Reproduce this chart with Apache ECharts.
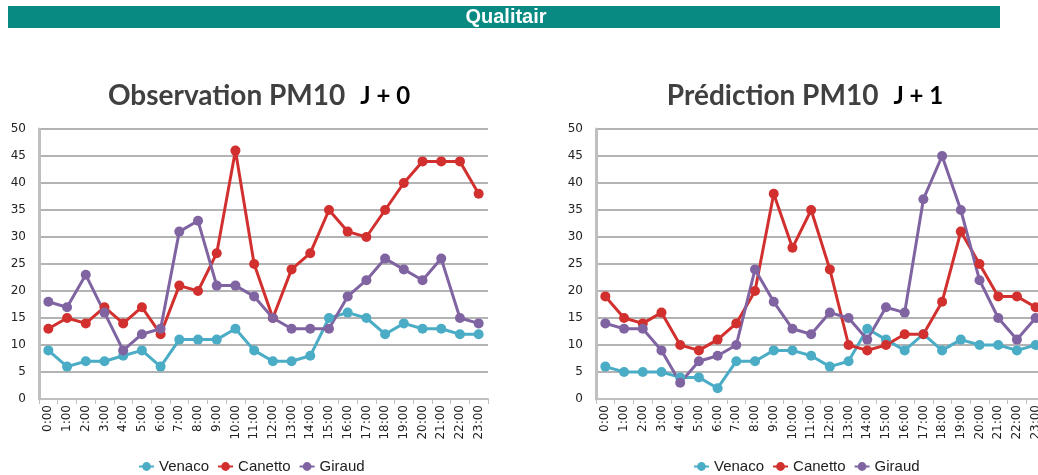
<!DOCTYPE html>
<html>
<head>
<meta charset="utf-8">
<script src="https://cdn.jsdelivr.net/npm/echarts@6/dist/echarts.min.js"></script>
<style>
  html, body { margin: 0; padding: 0; background: #fff; }
  #chart { width: 1038px; height: 475px; }
</style>
</head>
<body>
<div id="chart"></div>
<script>
// Hourly PM10 concentrations at three stations
const hours = ['0:00','1:00','2:00','3:00','4:00','5:00','6:00','7:00','8:00','9:00','10:00','11:00',
               '12:00','13:00','14:00','15:00','16:00','17:00','18:00','19:00','20:00','21:00','22:00','23:00'];
const stations = ['Venaco', 'Canetto', 'Giraud'];

// Observation, day J + 0
const obsVenaco  = [9, 6, 7, 7, 8, 9, 6, 11, 11, 11, 13, 9, 7, 7, 8, 15, 16, 15, 12, 14, 13, 13, 12, 12];
const obsCanetto = [13, 15, 14, 17, 14, 17, 12, 21, 20, 27, 46, 25, 15, 24, 27, 35, 31, 30, 35, 40, 44, 44, 44, 38];
const obsGiraud  = [18, 17, 23, 16, 9, 12, 13, 31, 33, 21, 21, 19, 15, 13, 13, 13, 19, 22, 26, 24, 22, 26, 15, 14];

// Forecast, day J + 1
const preVenaco  = [6, 5, 5, 5, 4, 4, 2, 7, 7, 9, 9, 8, 6, 7, 13, 11, 9, 12, 9, 11, 10, 10, 9, 10];
const preCanetto = [19, 15, 14, 16, 10, 9, 11, 14, 20, 38, 28, 35, 24, 10, 9, 10, 12, 12, 18, 31, 25, 19, 19, 17];
const preGiraud  = [14, 13, 13, 9, 3, 7, 8, 10, 24, 18, 13, 12, 16, 15, 11, 17, 16, 37, 45, 35, 22, 15, 11, 15];

const yTicks = { min: 0, max: 50, interval: 5 };

const colors = { Venaco: '#4BACC6', Canetto: '#D1302E', Giraud: '#8064A2' };

const chart = echarts.init(document.getElementById('chart'));

function xAxis(gridIndex) {
  return {
    type: 'category', gridIndex, data: hours, boundaryGap: true,
    axisLine: { lineStyle: { color: '#BFBFBF', width: 2 } },
    axisTick: { show: true, length: 5, lineStyle: { color: '#BFBFBF', width: 1 } },
    axisLabel: { rotate: 90, interval: 0, color: '#222', fontSize: 12, fontFamily: 'DejaVu Sans', margin: 6 },
    splitLine: { show: false }
  };
}
function yAxis(gridIndex) {
  return {
    type: 'value', gridIndex, min: yTicks.min, max: yTicks.max, interval: yTicks.interval,
    axisLine: { show: true, lineStyle: { color: '#BFBFBF', width: 3 } },
    axisTick: { show: false },
    axisLabel: { color: '#222', fontSize: 12, fontFamily: 'DejaVu Sans', margin: 13 },
    splitLine: { lineStyle: { color: '#9A9A9A', width: 1.5 } }
  };
}
function line(name, data, idx) {
  return {
    name, type: 'line', data, xAxisIndex: idx, yAxisIndex: idx,
    symbol: 'circle', symbolSize: 10,
    lineStyle: { color: colors[name], width: 3 },
    itemStyle: { color: colors[name] },
    animation: false
  };
}
function title(main, day, cx) {
  return {
    text: '{a|' + main + '}   {b|' + day + '}',
    left: cx, top: 77, textAlign: 'center',
    textStyle: {
      rich: {
        a: { fontFamily: 'Lato', fontWeight: 'bold', fontSize: 28, color: '#404040' },
        b: { fontFamily: 'Lato', fontWeight: 'bold', fontSize: 24, color: '#000' }
      }
    }
  };
}
function legend(left) {
  return {
    data: stations, left, top: 454, itemGap: 8, itemWidth: 15, itemHeight: 11,
    textStyle: { fontFamily: 'Liberation Sans', fontSize: 15, color: '#222' }
  };
}

chart.setOption({
  animation: false,
  graphic: [
    { type: 'rect', shape: { x: 8, y: 6, width: 992, height: 22 }, style: { fill: '#088A82' } },
    { type: 'text', x: 506, y: 17,
      style: { text: 'Qualitair', fill: '#fff', font: 'bold 20px "Liberation Sans Narrow", "Liberation Sans"',
               align: 'center', verticalAlign: 'middle' } }
  ],
  title: [title('Observation PM10', 'J + 0', 254), title('Prédiction PM10', 'J + 1', 800)],
  legend: [legend(133), legend(688)],
  grid: [
    { left: 39, top: 129, width: 449, height: 270, outerBoundsMode: 'none' },
    { left: 596, top: 129, width: 449, height: 270, outerBoundsMode: 'none' }
  ],
  xAxis: [xAxis(0), xAxis(1)],
  yAxis: [yAxis(0), yAxis(1)],
  series: [
    line('Venaco', obsVenaco, 0), line('Canetto', obsCanetto, 0), line('Giraud', obsGiraud, 0),
    line('Venaco', preVenaco, 1), line('Canetto', preCanetto, 1), line('Giraud', preGiraud, 1)
  ]
});
</script>
</body>
</html>
